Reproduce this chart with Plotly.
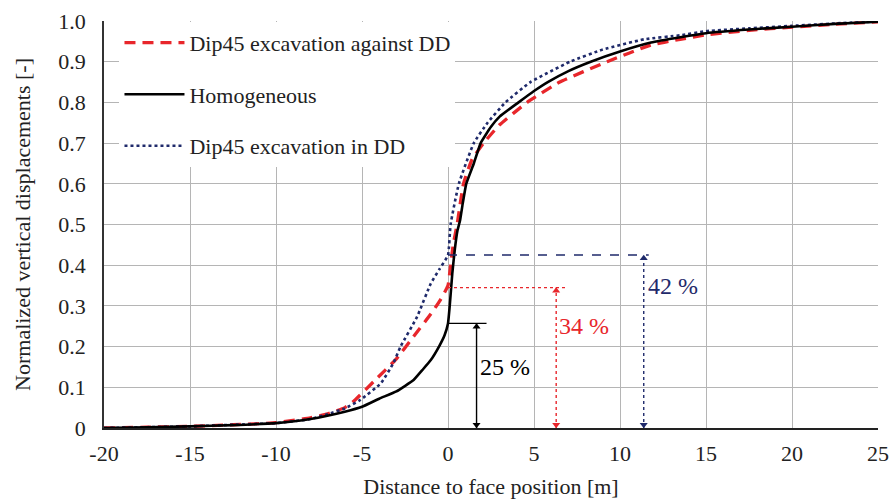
import plotly.graph_objects as go

# ---------------- data ----------------
hom_x = [-20, -17.5, -15, -12.5, -10, -8, -6, -5, -4, -3, -2, -1.5, -1, -0.5, -0.2, 0,
         0.1, 0.25, 0.4, 0.55, 0.7, 0.85, 1.06, 1.5, 1.9, 2.5, 3, 4.1, 5, 5.8, 7, 8.3,
         10, 11.8, 13.5, 15, 17.5, 20, 22.5, 25]
hom_y = [0.0, 0.002, 0.004, 0.007, 0.012, 0.022, 0.04, 0.052, 0.072, 0.09, 0.118, 0.142,
         0.167, 0.202, 0.228, 0.257, 0.30, 0.38, 0.44, 0.485, 0.51, 0.55, 0.60, 0.65,
         0.70, 0.74, 0.765, 0.80, 0.828, 0.85, 0.877, 0.90, 0.925, 0.947, 0.96, 0.97,
         0.979, 0.986, 0.993, 0.998]

against_x = [-20, -17.5, -15, -12.5, -10, -8, -7, -6, -5.5, -4.3, -3, -2, -1, -0.44, 0,
             0.15, 0.3, 0.53, 0.9, 1.4, 2.07, 3, 4.6, 6.5, 9.25, 11.8, 13.5, 15, 17.5,
             20, 22.5, 25]
against_y = [0.0, 0.002, 0.004, 0.008, 0.013, 0.025, 0.035, 0.05, 0.065, 0.115, 0.17,
             0.225, 0.28, 0.315, 0.35, 0.40, 0.45, 0.50, 0.60, 0.66, 0.70, 0.745, 0.80,
             0.85, 0.90, 0.941, 0.955, 0.966, 0.977, 0.985, 0.992, 0.998]

indd_x = [-20, -17.5, -15, -12.5, -10, -8, -7, -6, -5.1, -3.9, -3.17, -2.76, -1.8, -1.0,
          -0.5, 0, 0.15, 0.63, 1.5, 2.3, 3.34, 4.8, 7.1, 9, 11.4, 13.5, 15, 17.5, 20,
          22.5, 25]
indd_y = [0.0, 0.002, 0.004, 0.008, 0.012, 0.022, 0.034, 0.048, 0.069, 0.11, 0.16, 0.20,
          0.273, 0.355, 0.39, 0.425, 0.50, 0.60, 0.70, 0.75, 0.80, 0.85, 0.90, 0.93,
          0.955, 0.965, 0.975, 0.982, 0.988, 0.994, 0.999]

series_names = ["Dip45 excavation against DD", "Homogeneous", "Dip45 excavation in DD"]

# face-displacement markers: value at face, horizontal line end, arrow x, label
face_disp = [0.257, 0.345, 0.425]
face_line_end = [2.24, 6.93, 11.67]
face_arrow_x = [1.66, 6.29, 11.38]
face_label = ["25 %", "34 %", "42 %"]
face_label_x = [3.3, 7.9, 13.1]
face_label_y = [0.15, 0.25, 0.35]

x_ticks = [-20, -15, -10, -5, 0, 5, 10, 15, 20, 25]
x_ticktext = ["-20", "-15", "-10", "-5", "0", "5", "10", "15", "20", "25"]
y_ticks = [0, 0.1, 0.2, 0.3, 0.4, 0.5, 0.6, 0.7, 0.8, 0.9, 1.0]
y_ticktext = ["0", "0.1", "0.2", "0.3", "0.4", "0.5", "0.6", "0.7", "0.8", "0.9", "1.0"]

# ---------------- styles ----------------
RED = "#e8262b"
NAVY = "#1f2a6b"
BLACK = "#000000"
FONT = "Liberation Serif, Tinos, Times New Roman, DejaVu Serif, serif"
colors = [BLACK, RED, NAVY]
hdash = ["solid", "dot", "dash"]
vdash = ["solid", "dot", "dot"]

fig = go.Figure()

fig.add_trace(go.Scatter(x=against_x, y=against_y, mode="lines", name=series_names[0],
                         line=dict(color=RED, width=3.3, dash="11px,7px", shape="spline", smoothing=0.4),
                         legendgroup="a", legendrank=1))
fig.add_trace(go.Scatter(x=indd_x, y=indd_y, mode="lines", name=series_names[2],
                         line=dict(color=NAVY, width=2.6, dash="dot", shape="spline", smoothing=0.4),
                         legendgroup="c", legendrank=3))
fig.add_trace(go.Scatter(x=hom_x, y=hom_y, mode="lines", name=series_names[1],
                         line=dict(color=BLACK, width=2.6, shape="spline", smoothing=0.4),
                         legendgroup="b", legendrank=2))

for i in range(3):
    fig.add_trace(go.Scatter(x=[0, face_line_end[i]], y=[face_disp[i], face_disp[i]],
                             mode="lines", showlegend=False, hoverinfo="skip",
                             line=dict(color=colors[i], width=1.4, dash=hdash[i])))
    fig.add_trace(go.Scatter(x=[face_arrow_x[i], face_arrow_x[i]], y=[0, face_disp[i]],
                             mode="lines", showlegend=False, hoverinfo="skip",
                             line=dict(color=colors[i], width=1.4, dash=vdash[i])))
    fig.add_trace(go.Scatter(x=[face_arrow_x[i], face_arrow_x[i]], y=[0.008, face_disp[i] - 0.008],
                             mode="markers", showlegend=False, hoverinfo="skip",
                             marker=dict(symbol=["triangle-down", "triangle-up"], size=7,
                                         color=colors[i], line=dict(width=0))))
    fig.add_annotation(x=face_label_x[i], y=face_label_y[i], text=face_label[i],
                       showarrow=False, font=dict(family=FONT, size=24, color=colors[i]))

fig.update_layout(
    width=890, height=501,
    margin=dict(l=104, r=12, t=21, b=73),
    paper_bgcolor="white", plot_bgcolor="white",
    font=dict(family=FONT, size=22, color="#222222"),
    showlegend=True,
    legend=dict(x=0.02, y=0.998, xanchor="left", yanchor="top",
                bgcolor="white", borderwidth=0, tracegroupgap=20,
                traceorder="grouped", itemwidth=60,
                font=dict(family=FONT, size=22, color="#222222")),
    xaxis=dict(range=[-20, 25], tickvals=x_ticks, ticktext=x_ticktext, showgrid=True,
               gridcolor="#b5b5b5", gridwidth=1.3, zeroline=False, showline=True,
               linecolor="#222222", linewidth=2.4, ticks="", ticklabelstandoff=4,
               automargin=False,
               title=dict(text="Distance to face position [m]", standoff=14,
                          font=dict(family=FONT, size=22, color="#222222"))),
    yaxis=dict(range=[0, 1.0], tickvals=y_ticks, ticktext=y_ticktext, showgrid=True,
               gridcolor="#b5b5b5", gridwidth=1.3, zeroline=False, showline=True,
               linecolor="#333333", linewidth=1.5, ticks="", ticklabelstandoff=12,
               automargin=False,
               title=dict(text="Normalized vertical displacements [-]", standoff=22,
                          font=dict(family=FONT, size=22, color="#222222"))),
)

fig.write_html("out.html")
